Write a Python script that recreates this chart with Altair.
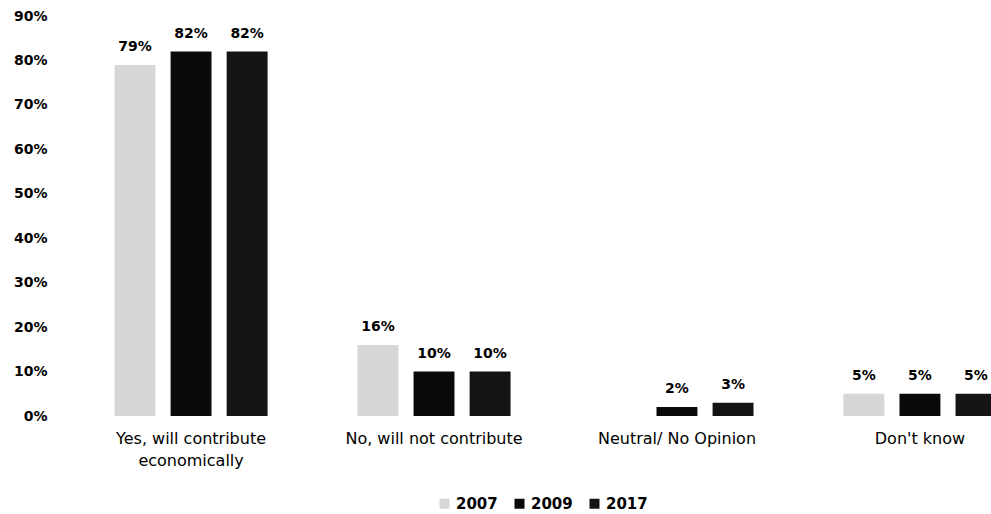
import altair as alt
import pandas as pd

categories = ["Yes, will contribute economically", "No, will not contribute",
              "Neutral/ No Opinion", "Don't know"]
years = ["2007", "2009", "2017"]
values_2007 = [0.79, 0.16, None, 0.05]
values_2009 = [0.82, 0.10, 0.02, 0.05]
values_2017 = [0.82, 0.10, 0.03, 0.05]
y_ticks = [0, 0.1, 0.2, 0.3, 0.4, 0.5, 0.6, 0.7, 0.8, 0.9]
colors = ["#d6d6d6", "#0a0a0a", "#141414"]

rows = []
for yr, vals in zip(years, [values_2007, values_2009, values_2017]):
    for c, v in zip(categories, vals):
        rows.append({"category": c, "year": yr, "value": v})
df = pd.DataFrame(rows)

FONT = "DejaVu Sans"

x_enc = alt.X(
    "category:N", sort=categories,
    scale=alt.Scale(range=[0, 1001], paddingInner=0.37, paddingOuter=0.245),
    axis=alt.Axis(
        title=None, labelAngle=0, domain=False, ticks=False,
        labelFont=FONT, labelFontSize=16, labelColor="black",
        labelPadding=14, labelBaseline="top", labelLimit=0,
        labelLineHeight=22,
        labelExpr="datum.value == 'Yes, will contribute economically' ? ['Yes, will contribute', 'economically'] : datum.value",
    ),
)
xoff = alt.XOffset("year:N", sort=years,
                   scale=alt.Scale(paddingInner=0.27, paddingOuter=0))
y_enc = alt.Y(
    "value:Q",
    scale=alt.Scale(domain=[0, 0.9], nice=False),
    axis=alt.Axis(
        title=None, format=".0%", values=y_ticks, domain=False, ticks=False,
        grid=False, labelFont=FONT, labelFontSize=14, labelFontWeight="bold",
        labelColor="black", labelPadding=8,
    ),
)

base = alt.Chart(df).transform_filter("isValid(datum.value)")

bars = base.mark_bar().encode(
    x=x_enc, xOffset=xoff, y=y_enc,
    color=alt.Color(
        "year:N", sort=years,
        scale=alt.Scale(domain=years, range=colors),
        legend=alt.Legend(
            orient="none", legendX=382, legendY=480, direction="horizontal",
            title=None, symbolType="square", symbolSize=100,
            symbolStrokeWidth=0, labelFont=FONT, labelFontSize=15,
            labelFontWeight="bold", labelColor="black", labelOffset=4,
            columnPadding=14, padding=0,
        ),
    ),
)

labels = base.mark_text(
    font=FONT, fontSize=14, fontWeight="bold", color="black",
    baseline="alphabetic", dy=-14,
).encode(
    x=alt.X("category:N", sort=categories),
    xOffset=alt.XOffset("year:N", sort=years),
    y=alt.Y("value:Q"),
    text=alt.Text("value:Q", format=".0%"),
)

chart = (
    alt.layer(bars, labels)
    .properties(
        width=936, height=400,
        autosize=alt.AutoSizeParams(type="none"),
        padding={"left": 55, "top": 16, "right": 0, "bottom": 98},
        background="white",
    )
    .configure_view(stroke=None)
)

chart.save("out.html", embed_options={"renderer": "svg", "actions": False})
